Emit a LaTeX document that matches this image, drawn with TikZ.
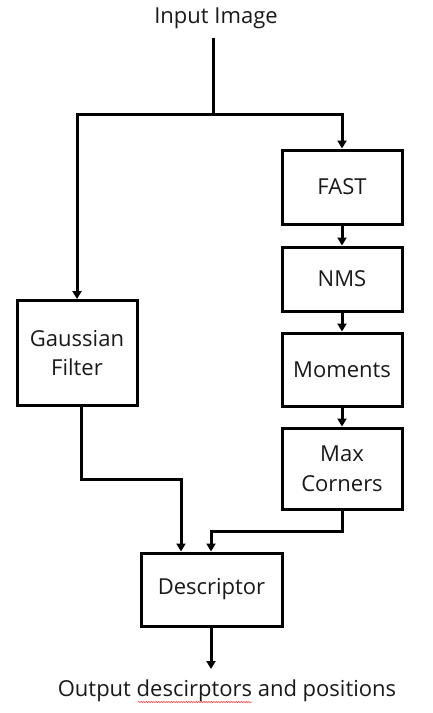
\documentclass[tikz,border=0pt]{standalone}
\usepackage{fontspec}
\setmainfont{Open Sans}
\usetikzlibrary{arrows.meta,decorations.pathmorphing}
\begin{document}
\begin{tikzpicture}[x=1pt,y=-1pt,
  every node/.style={font=\fontsize{22}{29.5}\selectfont, text=black!90},
  blk/.style={draw, line width=3pt, minimum width=120pt, align=center, inner sep=0pt},
  conn/.style={line width=3pt, -{Triangle[length=8pt,width=9pt]}},
  plain/.style={line width=3pt}]
\useasboundingbox (0,0) rectangle (432,713);
\node (in) at (216,18.5) {Input Image};
\node[blk, minimum height=74pt] (fast) at (342,187) {FAST};
\node[blk, minimum height=64pt] (nms) at (342,279) {NMS};
\node[blk, minimum height=73pt] (mom) at (342,369.5) {Moments};
\node[blk, minimum height=81pt] (maxc) at (342,468.5) {Max\\Corners};
\node[blk, minimum height=105pt] (gauss) at (77,353) {Gaussian\\Filter};
\node[blk, minimum width=141pt, minimum height=73pt] (desc) at (211.5,589.5) {Descriptor};
\node (out) at (227,691) {Output descirptors and positions};
\coordinate (s) at (213,38);
\coordinate (j) at (213,114);
\coordinate (e) at (211,669);
\draw[plain] (s) -- (j);
\draw[conn] (j) -| (gauss.north);
\draw[conn] (j) -| (fast.north);
\draw[conn] (fast) -- (nms);
\draw[conn] (nms) -- (mom);
\draw[conn] (mom) -- (maxc);
\draw[conn] ([xshift=4pt]gauss.south) |- (181,479) -- (desc.north -| 181,0);
\draw[conn] (maxc.south) |- (211,531) -- (desc.north -| 211,0);
\draw[conn] (desc.south -| e) -- (e);
\draw[red!70, line width=0.6pt, decorate, decoration={snake, amplitude=0.6pt, segment length=2.5pt}] (138,702) -- (252,702);
\end{tikzpicture}
\end{document}
